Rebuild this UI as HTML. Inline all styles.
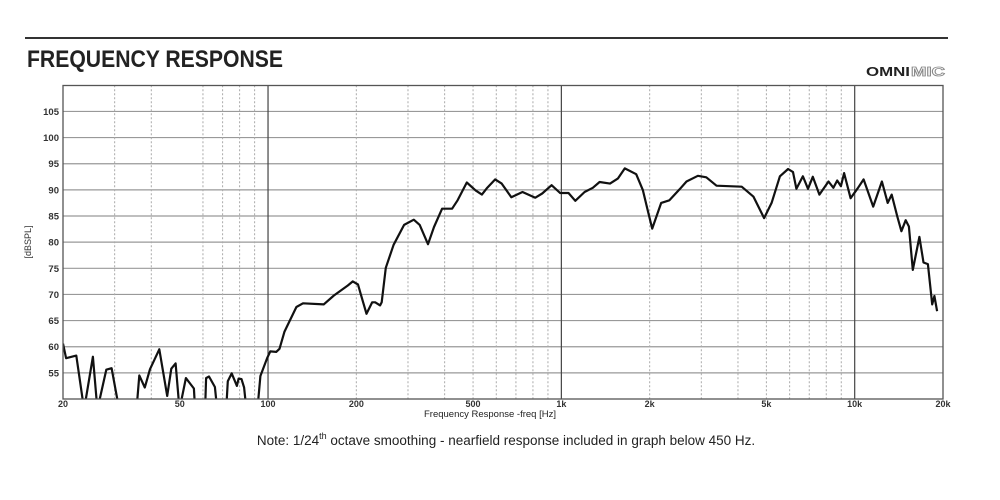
<!DOCTYPE html>
<html><head><meta charset="utf-8"><style>
html,body{margin:0;padding:0;background:#fff;}
svg{display:block;font-family:"Liberation Sans",Arial,sans-serif;}
</style></head><body>
<svg id="chart" width="1000" height="500" viewBox="0 0 1000 500">
  <line x1="25" y1="38" x2="948" y2="38" stroke="#333" stroke-width="2"/>
  <text x="27" y="67" font-size="24" font-weight="bold" fill="#222" textLength="256" lengthAdjust="spacingAndGlyphs">FREQUENCY RESPONSE</text>
  <g>
    <text x="866" y="76" font-size="13" font-weight="bold" fill="#222" textLength="44" lengthAdjust="spacingAndGlyphs">OMNI</text>
    <text x="911" y="76" font-size="13" font-weight="bold" fill="#fff" stroke="#888" stroke-width="0.8" textLength="34" lengthAdjust="spacingAndGlyphs">MIC</text>
  </g>
  <g id="grid"></g>
  <g id="yticks"></g>
  <g id="xticks"></g>
  <defs><clipPath id="plotclip"><rect x="63" y="85" width="880" height="314"/></clipPath></defs>
  <g clip-path="url(#plotclip)"><path id="curve" fill="none" stroke="#111" stroke-width="2.2" stroke-linejoin="round"/></g>
  <rect x="63" y="85.5" width="880" height="313.5" fill="none" stroke="#555" stroke-width="1.3"/>
  <text x="31" y="242" font-size="9" fill="#333" text-anchor="middle" transform="rotate(-90 31 242)">[dBSPL]</text>
  <text x="490" y="417" font-size="9.5" fill="#222" text-anchor="middle">Frequency Response -freq [Hz]</text>
  <text x="506" y="445" font-size="13.5" fill="#222" text-anchor="middle">Note: 1/24<tspan font-size="9" dy="-6">th</tspan><tspan dy="6"> octave smoothing - nearfield response included in graph below 450 Hz.</tspan></text>
</svg>
<script>
const freqs = [20,20.5,22.2,23.6,25.3,26.2,28.1,29.3,31.1,35.6,36.4,38,39.6,42.6,45.3,46.8,48.4,49.9,52.5,55.9,56.4,61,61.5,62.9,65.9,67.1,72,72.9,75.2,78.3,79.4,81.2,82.9,84.4,92,94.2,99.3,101.8,106.6,109.4,113.8,118.6,124.9,131.6,154.8,167.7,187,194.5,202.6,207,216.7,226.6,232,241,244,252,268,291,314,329,351,368,392,424,443,476,510,536,557,595,626,675,737,815,860,926,990,1058,1116,1200,1280,1350,1465,1560,1645,1800,1895,1970,2040,2190,2335,2530,2670,2920,3120,3380,4120,4520,4910,5210,5560,5930,6160,6330,6660,6930,7200,7580,8140,8460,8720,8970,9200,9680,10240,10720,11560,12380,12960,13370,13970,14430,14920,15300,15780,16620,17160,17760,18370,18700,19100];
const spl = [60.6,57.8,58.3,48,58.1,48,55.6,55.9,48,48,54.5,52.2,55.7,59.5,50.6,55.8,56.8,48,54,52,48,48,54,54.3,52.3,48,48,53.4,54.9,52.5,53.9,53.8,52.2,48,48,54.4,57.8,59.1,59,59.6,62.9,65,67.6,68.3,68.1,69.8,71.7,72.5,71.9,70.1,66.3,68.5,68.5,67.9,68.5,75.1,79.5,83.3,84.3,83.3,79.6,82.9,86.4,86.4,88,91.4,89.9,89.1,90.3,92,91.2,88.6,89.6,88.5,89.3,90.9,89.4,89.4,87.9,89.6,90.4,91.5,91.2,92.2,94.1,93,90,86.1,82.6,87.5,88,90.1,91.6,92.7,92.4,90.8,90.6,88.7,84.6,87.5,92.6,94,93.4,90.2,92.6,90.2,92.5,89.1,91.6,90.4,91.8,90.7,93.2,88.4,90.3,92,86.8,91.6,87.5,89.1,84.9,82.1,84.2,83,74.7,81,76.1,75.8,68.1,69.7,66.8];
const yTicks = [55,60,65,70,75,80,85,90,95,100,105];
const xLabelVals = [20,50,100,200,500,1000,2000,5000,10000,20000];
const xLabelText = ["20","50","100","200","500","1k","2k","5k","10k","20k"];
const minorFreqs = [30,40,60,70,80,90,200,300,400,500,600,700,800,900,2000,3000,4000,5000,6000,7000,8000,9000];
const majorFreqs = [100,1000,10000];

const NS="http://www.w3.org/2000/svg";
const X0=63,X1=943,Y0=399,Y1=85.3,DBMIN=50,DBMAX=110;
function xs(f){return X0+(Math.log10(f)-Math.log10(20))/3*(X1-X0);}
function ys(v){return Y0-(v-DBMIN)/(DBMAX-DBMIN)*(Y0-Y1);}
function mk(tag,attrs,parent){const e=document.createElementNS(NS,tag);for(const k in attrs)e.setAttribute(k,attrs[k]);parent.appendChild(e);return e;}
const grid=document.getElementById('grid');
yTicks.forEach(v=>{
  const l=mk('line',{x1:X0,x2:X1,y1:ys(v),y2:ys(v),stroke:'#999','stroke-width':1.2},grid);
  
  
  const t=mk('text',{x:59,y:ys(v)+3.5,'font-size':9.5,'text-anchor':'end',fill:'#333','font-weight':'bold'},document.getElementById('yticks'));
  t.textContent=v;
  
  
});
minorFreqs.forEach(f=>{
  const l=mk('line',{x1:xs(f),x2:xs(f),y1:Y1,y2:Y0,stroke:'#aaa','stroke-width':1,'stroke-dasharray':'2,2'},grid);
  
  
});
majorFreqs.forEach(f=>{
  const l=mk('line',{x1:xs(f),x2:xs(f),y1:Y1,y2:Y0,stroke:'#444','stroke-width':1.2},grid);
  
  
});
xLabelVals.forEach((f,i)=>{
  const t=mk('text',{x:xs(f),y:407,'font-size':9,'text-anchor':'middle',fill:'#333','font-weight':'bold'},document.getElementById('xticks'));
  t.textContent=xLabelText[i];
  
  
});
let d='';
freqs.forEach((f,i)=>{d+=(i?'L':'M')+xs(f).toFixed(1)+','+ys(spl[i]).toFixed(1);});
document.getElementById('curve').setAttribute('d',d);
</script>
</body></html>
